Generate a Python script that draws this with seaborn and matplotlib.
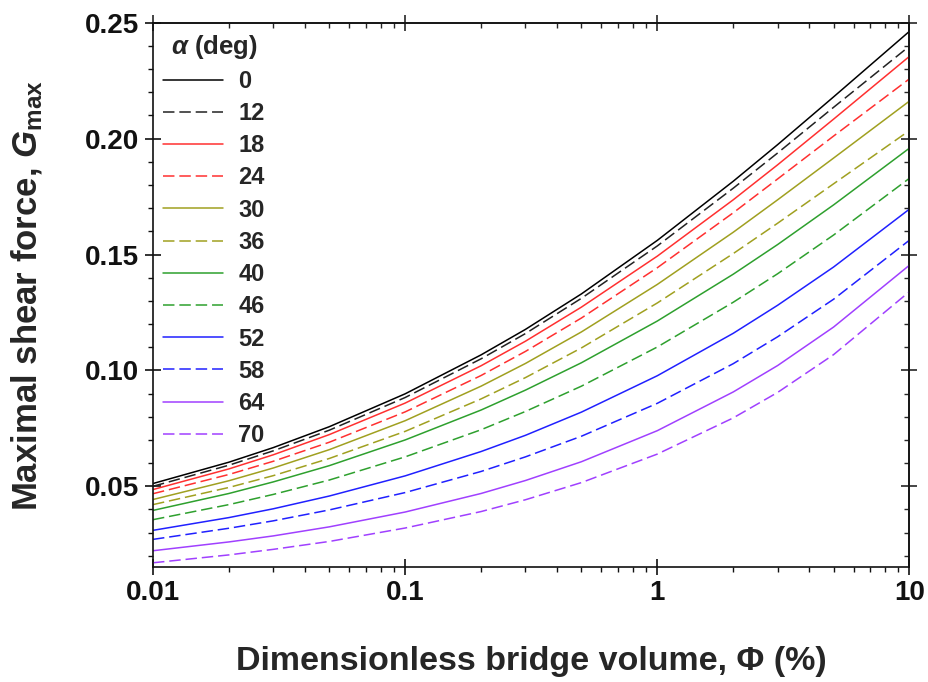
import numpy as np
import pandas as pd
import matplotlib
matplotlib.use("Agg")
import matplotlib.pyplot as plt
import seaborn as sns
from matplotlib.ticker import LogLocator, MultipleLocator, FixedLocator, NullFormatter

# Bridge volume (%) at which G_max was evaluated
phi = [0.01, 0.02, 0.03, 0.05, 0.1, 0.2, 0.3, 0.5, 1, 2, 3, 5, 10]

# Maximal shear force for each contact angle alpha (deg)
alphas = [0, 12, 18, 24, 30, 36, 40, 46, 52, 58, 64, 70]
g_0 = [0.0512, 0.0604, 0.0667, 0.0757, 0.0899, 0.1067, 0.1177, 0.1330, 0.1561, 0.1816, 0.1974, 0.2180, 0.2463]
g_12 = [0.0500, 0.0591, 0.0653, 0.0742, 0.0883, 0.1050, 0.1159, 0.1311, 0.1537, 0.1786, 0.1938, 0.2135, 0.2399]
g_18 = [0.0486, 0.0575, 0.0636, 0.0723, 0.0859, 0.1020, 0.1126, 0.1273, 0.1493, 0.1736, 0.1887, 0.2084, 0.2355]
g_24 = [0.0468, 0.0551, 0.0608, 0.0690, 0.0821, 0.0978, 0.1082, 0.1226, 0.1443, 0.1680, 0.1826, 0.2011, 0.2258]
g_30 = [0.0443, 0.0524, 0.0579, 0.0658, 0.0783, 0.0932, 0.1030, 0.1166, 0.1371, 0.1596, 0.1736, 0.1916, 0.2162]
g_36 = [0.0421, 0.0495, 0.0546, 0.0620, 0.0737, 0.0877, 0.0969, 0.1097, 0.1291, 0.1504, 0.1635, 0.1805, 0.2035]
g_40 = [0.0396, 0.0469, 0.0519, 0.0589, 0.0700, 0.0829, 0.0915, 0.1033, 0.1213, 0.1415, 0.1543, 0.1714, 0.1959]
g_46 = [0.0356, 0.0421, 0.0465, 0.0527, 0.0627, 0.0744, 0.0823, 0.0932, 0.1101, 0.1294, 0.1417, 0.1584, 0.1829]
g_52 = [0.0310, 0.0365, 0.0403, 0.0458, 0.0545, 0.0650, 0.0720, 0.0820, 0.0977, 0.1160, 0.1281, 0.1446, 0.1696]
g_58 = [0.0271, 0.0319, 0.0351, 0.0398, 0.0473, 0.0564, 0.0627, 0.0716, 0.0858, 0.1029, 0.1145, 0.1307, 0.1562]
g_64 = [0.0222, 0.0260, 0.0286, 0.0325, 0.0389, 0.0469, 0.0525, 0.0606, 0.0740, 0.0907, 0.1021, 0.1187, 0.1454]
g_70 = [0.0170, 0.0204, 0.0228, 0.0262, 0.0320, 0.0391, 0.0442, 0.0516, 0.0639, 0.0795, 0.0905, 0.1068, 0.1340]
series = [g_0, g_12, g_18, g_24, g_30, g_36, g_40, g_46, g_52, g_58, g_64, g_70]

colors = ["#000000", "#222222", "#ff3030", "#ff3030", "#a0a020", "#a0a020",
          "#2ea02e", "#2ea02e", "#2020ff", "#2020ff", "#a040ff", "#a040ff"]
dashed = [False, True] * 6

rows = []
for a, vals in zip(alphas, series):
    for p, v in zip(phi, vals):
        rows.append({"phi": p, "G": v, "alpha": str(a)})
df = pd.DataFrame(rows)

sns.set_style("ticks")
plt.rcParams["font.family"] = ["Liberation Sans", "DejaVu Sans"]
plt.rcParams["font.weight"] = "bold"
plt.rcParams["mathtext.fontset"] = "custom"
plt.rcParams["mathtext.rm"] = "Liberation Sans:bold"
plt.rcParams["mathtext.it"] = "Liberation Sans:italic:bold"
plt.rcParams["mathtext.bf"] = "Liberation Sans:bold"

fig = plt.figure(figsize=(9.29, 6.82), dpi=100)
ax = fig.add_axes([0.1647, 0.168, 0.8143, 0.7987])

for a, col, d in zip(alphas, colors, dashed):
    sub = df[df["alpha"] == str(a)]
    sns.lineplot(data=sub, x="phi", y="G", ax=ax, color=col, lw=1.1,
                 label=str(a), legend=False, estimator=None, sort=True)
    line = ax.lines[-1]
    if d:
        line.set_dashes((7.5, 3.2))

ax.set_xscale("log")
ax.set_xlim(0.01, 10)
ax.set_ylim(0.015, 0.25)

ax.xaxis.set_major_locator(FixedLocator([0.01, 0.1, 1, 10]))
ax.set_xticklabels(["0.01", "0.1", "1", "10"])
ax.xaxis.set_minor_locator(LogLocator(base=10, subs=np.arange(2, 10)))
ax.xaxis.set_minor_formatter(NullFormatter())
ax.yaxis.set_major_locator(FixedLocator([0.05, 0.10, 0.15, 0.20, 0.25]))
ax.set_yticklabels(["0.05", "0.10", "0.15", "0.20", "0.25"])
ax.yaxis.set_minor_locator(MultipleLocator(0.01))

for s in ax.spines.values():
    s.set_linewidth(1.2)
    s.set_color("#111111")

ax.tick_params(which="major", direction="inout", length=12, width=1.2,
               labelsize=20, colors="#111111")
ax.tick_params(which="minor", direction="out", length=3.5, width=1.0,
               colors="#111111")
for lab in ax.get_xticklabels() + ax.get_yticklabels():
    lab.set_fontweight("bold")
ax.tick_params(axis="x", which="major", pad=3)
ax.tick_params(axis="y", which="major", pad=4)

# Mirrored axes on the top and right with ticks only
top = ax.secondary_xaxis("top")
top.set_xscale("log")
top.xaxis.set_major_locator(FixedLocator([0.01, 0.1, 1, 10]))
top.xaxis.set_minor_locator(LogLocator(base=10, subs=np.arange(2, 10)))
top.xaxis.set_major_formatter(NullFormatter())
top.xaxis.set_minor_formatter(NullFormatter())
top.tick_params(which="major", direction="inout", length=12, width=1.2)
top.tick_params(which="minor", direction="in", length=3.5, width=1.0)
top.spines["top"].set_linewidth(1.2)

right = ax.secondary_yaxis("right")
right.yaxis.set_major_locator(FixedLocator([0.05, 0.10, 0.15, 0.20, 0.25]))
right.yaxis.set_minor_locator(MultipleLocator(0.01))
right.yaxis.set_major_formatter(NullFormatter())
right.yaxis.set_minor_formatter(NullFormatter())
right.tick_params(which="major", direction="inout", length=12, width=1.2)
right.tick_params(which="minor", direction="in", length=3.5, width=1.0)
right.spines["right"].set_linewidth(1.2)

ax.set_xlabel("Dimensionless bridge volume, Φ (%)", fontsize=24.5,
              fontweight="bold", labelpad=29)
ax.set_ylabel(r"Maximal shear force, $G_{\mathrm{max}}$", fontsize=25,
              fontweight="bold", labelpad=29)

leg = ax.legend(loc="upper left", bbox_to_anchor=(0.0, 1.0), frameon=False,
                title=r"$\alpha$ (deg)", handlelength=2.55, handletextpad=0.65,
                labelspacing=0.39, borderaxespad=0.02, borderpad=0.4,
                prop={"size": 17, "weight": "bold"},
                title_fontproperties={"size": 18.5, "weight": "bold"})

fig.savefig("out.png", dpi=100)
